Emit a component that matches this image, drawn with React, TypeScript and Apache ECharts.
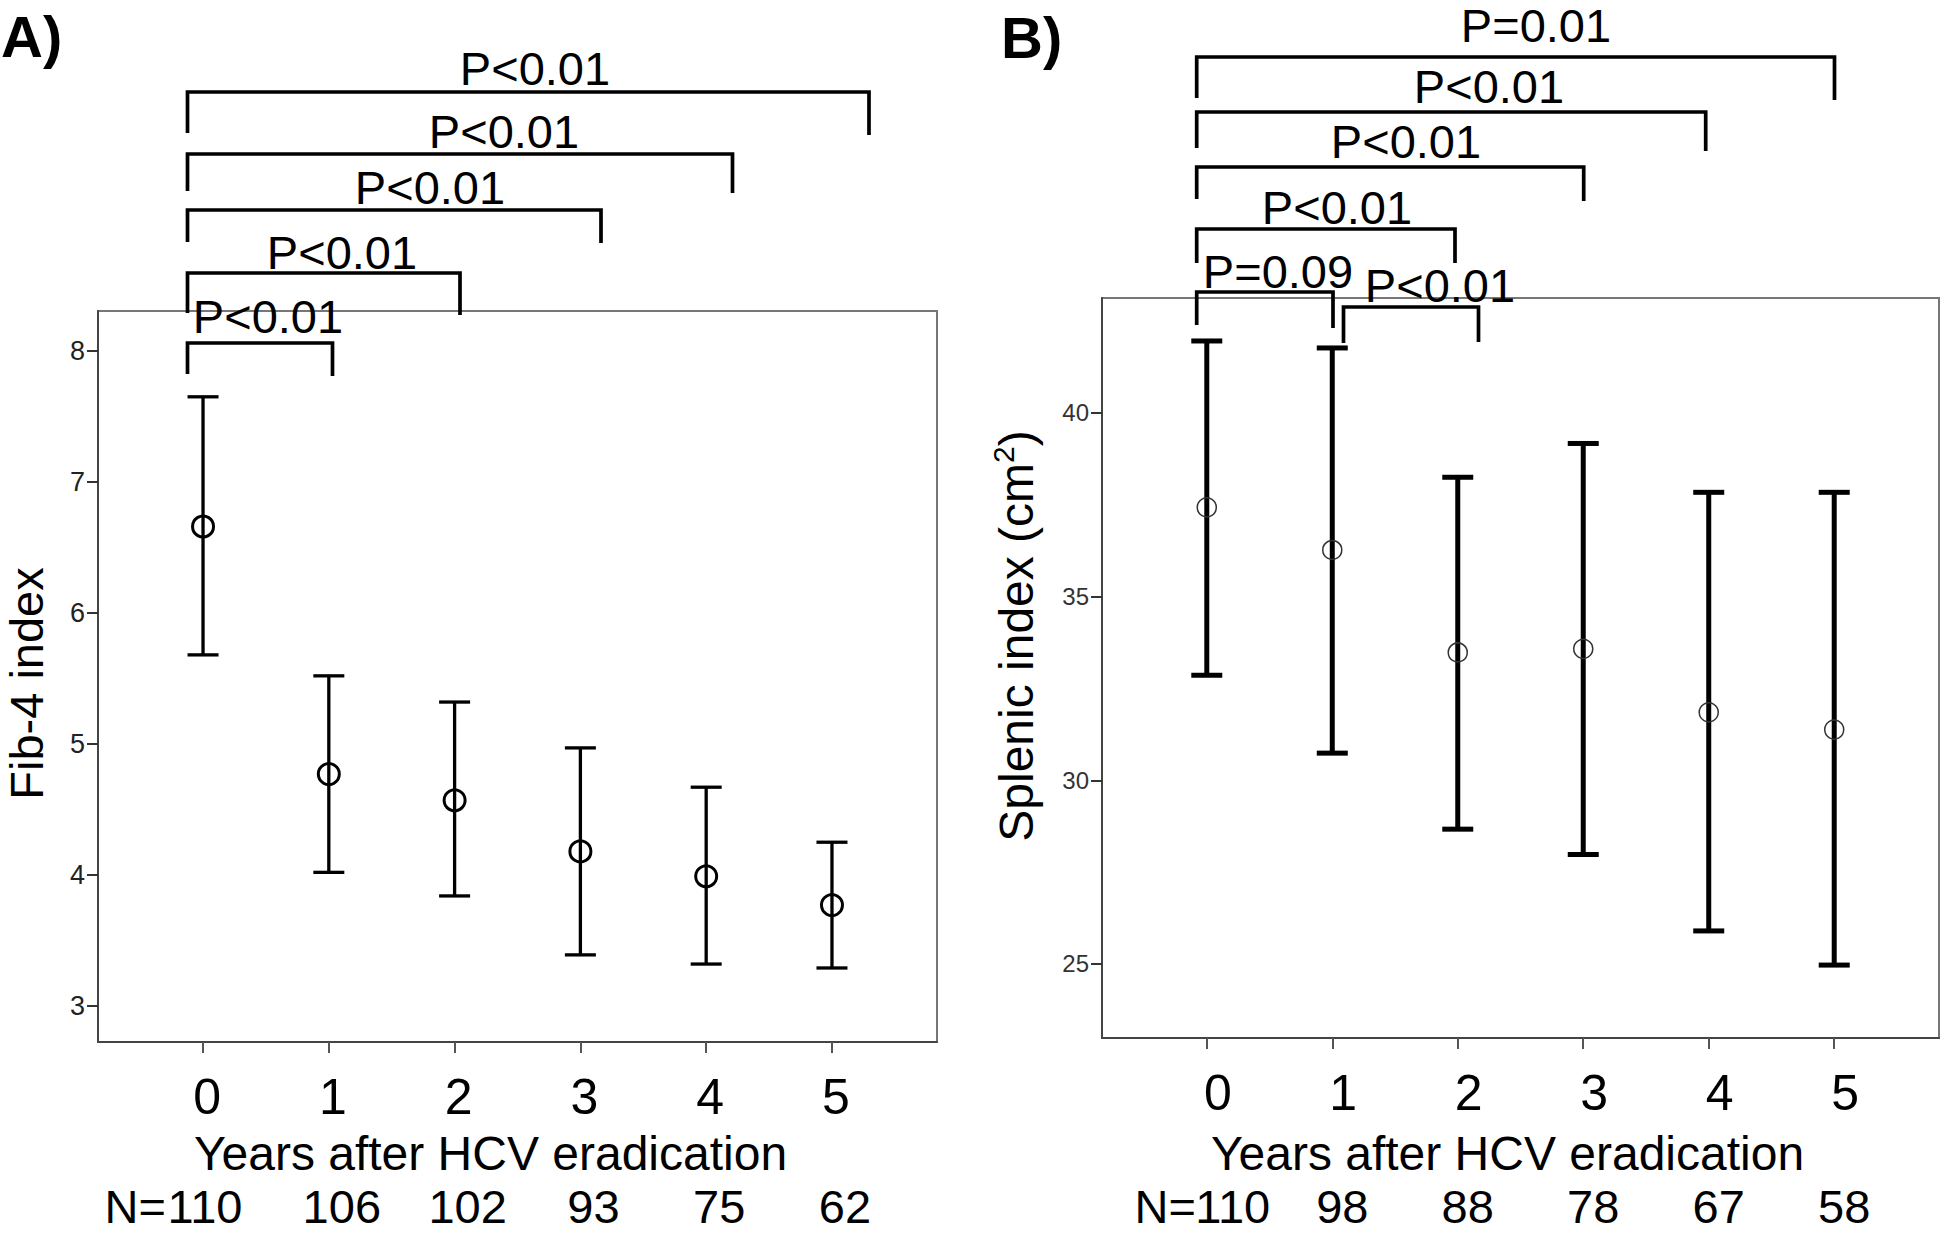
import React, { useEffect, useRef } from "react";
import * as echarts from "echarts";

// ---------------- data ----------------
const years = [0, 1, 2, 3, 4, 5];

// Panel A: Fib-4 index (mean with 95% CI)
const fibMean = [6.66, 4.77, 4.57, 4.18, 3.99, 3.77];
const fibLower = [5.68, 4.02, 3.84, 3.39, 3.32, 3.29];
const fibUpper = [7.65, 5.52, 5.32, 4.97, 4.67, 4.25];
const fibN = [110, 106, 102, 93, 75, 62];
const fibTicks = [3, 4, 5, 6, 7, 8];
const fibPLabels = ["P<0.01", "P<0.01", "P<0.01", "P<0.01", "P<0.01"];

// Panel B: Splenic index (cm2)
const splMean = [37.43, 36.27, 33.48, 33.58, 31.85, 31.38];
const splLower = [32.86, 30.74, 28.67, 27.98, 25.9, 24.97];
const splUpper = [41.96, 41.77, 38.25, 39.17, 37.84, 37.84];
const splN = [110, 98, 88, 78, 67, 58];
const splTicks = [25, 30, 35, 40];
const splPLabels = ["P=0.01", "P<0.01", "P<0.01", "P<0.01", "P=0.09", "P<0.01"];

// ---------------- layout (annotation brackets, pixels) ----------------
const fibBracketLayout = [
  { x1: 187.5, x2: 869, y: 92, l1: 133, l2: 135, tx: 535, tb: 85 },
  { x1: 187.5, x2: 732.5, y: 154, l1: 191, l2: 193, tx: 504, tb: 148 },
  { x1: 187.5, x2: 601, y: 210, l1: 242, l2: 243, tx: 430, tb: 204 },
  { x1: 187.5, x2: 460, y: 273, l1: 313, l2: 315, tx: 342, tb: 269 },
  { x1: 187.5, x2: 332.5, y: 343, l1: 374, l2: 376, tx: 268, tb: 333 },
];
const splBracketLayout = [
  { x1: 1196.7, x2: 1834.5, y: 57, l1: 98, l2: 100, tx: 1536, tb: 42 },
  { x1: 1196.7, x2: 1705.7, y: 112, l1: 148, l2: 151, tx: 1489, tb: 103 },
  { x1: 1196.7, x2: 1583.7, y: 167, l1: 199, l2: 201, tx: 1406, tb: 158 },
  { x1: 1196.7, x2: 1455, y: 229, l1: 263, l2: 263, tx: 1337, tb: 224 },
  { x1: 1196.7, x2: 1333, y: 292, l1: 325, l2: 328, tx: 1278, tb: 288 },
  { x1: 1343.5, x2: 1478.5, y: 307, l1: 343, l2: 342, tx: 1440, tb: 302 },
];

const FONT = '"Liberation Sans", Arial, Helvetica, sans-serif';

function errorBarRenderer(opts: {
  stemWidth: number;
  capWidth: number;
  capHalf: number;
  r: number;
  circleWidth: number;
  circleColor: string;
}) {
  return (params: any, api: any) => {
    const x = api.value(0);
    const lo = api.coord([x, api.value(1)]);
    const mid = api.coord([x, api.value(2)]);
    const hi = api.coord([x, api.value(3)]);
    return {
      type: "group",
      children: [
        {
          type: "line",
          shape: { x1: lo[0], y1: lo[1], x2: hi[0], y2: hi[1] },
          style: { stroke: "#000", lineWidth: opts.stemWidth },
        },
        {
          type: "line",
          shape: { x1: hi[0] - opts.capHalf, y1: hi[1], x2: hi[0] + opts.capHalf, y2: hi[1] },
          style: { stroke: "#000", lineWidth: opts.capWidth },
        },
        {
          type: "line",
          shape: { x1: lo[0] - opts.capHalf, y1: lo[1], x2: lo[0] + opts.capHalf, y2: lo[1] },
          style: { stroke: "#000", lineWidth: opts.capWidth },
        },
        {
          type: "circle",
          shape: { cx: mid[0], cy: mid[1], r: opts.r },
          style: { fill: "none", stroke: opts.circleColor, lineWidth: opts.circleWidth },
        },
      ],
    };
  };
}

function bracketGraphics(layout: any[], labels: string[]) {
  const out: any[] = [];
  layout.forEach((b, i) => {
    out.push({
      type: "polyline",
      z: 100,
      shape: {
        points: [
          [b.x1, b.l1],
          [b.x1, b.y],
          [b.x2, b.y],
          [b.x2, b.l2],
        ],
      },
      style: { stroke: "#000", lineWidth: 3.7, fill: null },
    });
    out.push({
      type: "text",
      z: 101,
      x: b.tx,
      y: b.tb - 0.36 * 47,
      style: {
        text: labels[i],
        x: 0,
        y: 0,
        fontSize: 47,
        lineHeight: 44,
        fontFamily: FONT,
        fill: "#000",
        align: "center",
        verticalAlign: "middle",
      },
    });
  });
  return out;
}

function xAxisPair(grid: number, nValues: number[], opts: any) {
  const base = {
    type: "value",
    gridIndex: grid,
    min: -0.835,
    max: 5.835,
    splitLine: { show: false },
  };
  return [
    {
      ...base,
      position: "bottom",
      axisLine: { show: true, onZero: false, lineStyle: { color: "#444", width: 2 } },
      axisTick: {
        show: true,
        length: 11,
        customValues: years,
        lineStyle: { color: "#555", width: 2 },
      },
      axisLabel: {
        customValues: years,
        fontSize: 50,
        fontFamily: FONT,
        color: "#000",
        margin: opts.labelMargin,
        padding: [0, 0, 0, opts.labelPad],
      },
      name: "Years after HCV eradication",
      nameLocation: "middle",
      nameGap: opts.nameGap,
      nameTextStyle: {
        fontSize: 48,
        fontFamily: FONT,
        color: "#000",
        padding: opts.namePadding,
      },
    },
    {
      ...base,
      position: "bottom",
      offset: 0,
      axisLine: { show: false },
      axisTick: { show: false },
      axisLabel: {
        customValues: years,
        margin: opts.nMargin,
        formatter: (v: number) => {
          const idx = years.indexOf(Math.round(v));
          const t = String(nValues[idx]);
          return idx === 0 ? "{f|" + t + "}" : "{n|" + t + "}";
        },
        rich: {
          f: {
            fontSize: 47,
            lineHeight: 40,
            fontFamily: FONT,
            color: "#000",
            padding: [0, 0, 0, opts.nPad0],
          },
          n: {
            fontSize: 47,
            lineHeight: 40,
            fontFamily: FONT,
            color: "#000",
            padding: [0, 0, 0, opts.nPad],
          },
        },
      },
    },
  ];
}

export default function App() {
  const ref = useRef<HTMLDivElement>(null);

  useEffect(() => {
    if (!ref.current) return;
    const chart = echarts.init(ref.current, undefined, { renderer: "svg" });

    const fibData = years.map((x, i) => [x, fibLower[i], fibMean[i], fibUpper[i]]);
    const splData = years.map((x, i) => [x, splLower[i], splMean[i], splUpper[i]]);

    const option: any = {
      animation: false,
      backgroundColor: "#fff",
      textStyle: { fontFamily: FONT },
      grid: [
        {
          left: 98,
          top: 311,
          width: 839,
          height: 731,
          show: true,
          borderColor: "#777",
          borderWidth: 2,
          backgroundColor: "transparent",
          outerBoundsMode: "none",
        },
        {
          left: 1102,
          top: 298,
          width: 837,
          height: 740,
          show: true,
          borderColor: "#777",
          borderWidth: 2,
          backgroundColor: "transparent",
          outerBoundsMode: "none",
        },
      ],
      xAxis: [
        ...xAxisPair(0, fibN, {
          labelMargin: 30,
          labelPad: 8,
          nameGap: 87,
          namePadding: [0, 54, 0, 0],
          nMargin: 144,
          nPad0: 4,
          nPad: 26,
        }),
        ...xAxisPair(1, splN, {
          labelMargin: 30,
          labelPad: 22,
          nameGap: 91,
          namePadding: [0, 26, 0, 0],
          nMargin: 148,
          nPad0: 52,
          nPad: 20,
        }),
      ],
      yAxis: [
        {
          type: "value",
          gridIndex: 0,
          min: 2.725,
          max: 8.305,
          splitLine: { show: false },
          axisLine: { show: true, onZero: false, lineStyle: { color: "#444", width: 2 } },
          axisTick: { show: true, length: 11, customValues: fibTicks, lineStyle: { color: "#333", width: 2 } },
          axisLabel: { customValues: fibTicks, fontSize: 27, fontFamily: FONT, color: "#222", margin: 13 },
          name: "Fib-4 index",
          nameLocation: "middle",
          nameGap: 52,
          nameTextStyle: {
            fontSize: 47,
            lineHeight: 40,
            fontFamily: FONT,
            color: "#000",
            padding: [0, 14, 0, 0],
          },
        },
        {
          type: "value",
          gridIndex: 1,
          min: 22.985,
          max: 43.13,
          splitLine: { show: false },
          axisLine: { show: true, onZero: false, lineStyle: { color: "#444", width: 2 } },
          axisTick: { show: true, length: 11, customValues: splTicks, lineStyle: { color: "#333", width: 2 } },
          axisLabel: { customValues: splTicks, fontSize: 24, fontFamily: FONT, color: "#333", margin: 13 },
          name: "Splenic index (cm{sup|2})",
          nameLocation: "middle",
          nameGap: 58,
          nameTextStyle: {
            fontSize: 48,
            fontFamily: FONT,
            color: "#000",
            padding: [0, 0, 0, 64],
            rich: {
              sup: { fontSize: 30, fontFamily: FONT, color: "#000", padding: [0, 0, 26, 0] },
            },
          },
        },
      ],
      series: [
        {
          type: "custom",
          xAxisIndex: 0,
          yAxisIndex: 0,
          data: fibData,
          encode: { x: 0, y: [1, 2, 3] },
          renderItem: errorBarRenderer({
            stemWidth: 3.3,
            capWidth: 3.3,
            capHalf: 15.5,
            r: 10.5,
            circleWidth: 3,
            circleColor: "#000",
          }),
        },
        {
          type: "custom",
          xAxisIndex: 2,
          yAxisIndex: 1,
          data: splData,
          encode: { x: 0, y: [1, 2, 3] },
          renderItem: errorBarRenderer({
            stemWidth: 5,
            capWidth: 5,
            capHalf: 15.5,
            r: 9.5,
            circleWidth: 1.5,
            circleColor: "#333",
          }),
        },
      ],
      graphic: [
        {
          type: "text",
          x: 1,
          y: 57 - 0.36 * 58,
          style: {
            text: "A)",
            fontSize: 58,
            lineHeight: 52,
            fontWeight: "bold",
            fontFamily: FONT,
            fill: "#000",
            align: "left",
            verticalAlign: "middle",
          },
        },
        {
          type: "text",
          x: 1001,
          y: 58 - 0.36 * 58,
          style: {
            text: "B)",
            fontSize: 58,
            lineHeight: 52,
            fontWeight: "bold",
            fontFamily: FONT,
            fill: "#000",
            align: "left",
            verticalAlign: "middle",
          },
        },
        {
          type: "text",
          x: 166,
          y: 1206,
          style: {
            text: "N=",
            fontSize: 47,
            lineHeight: 40,
            fontFamily: FONT,
            fill: "#000",
            align: "right",
            verticalAlign: "middle",
          },
        },
        {
          type: "text",
          x: 1196,
          y: 1206,
          style: {
            text: "N=",
            fontSize: 47,
            lineHeight: 40,
            fontFamily: FONT,
            fill: "#000",
            align: "right",
            verticalAlign: "middle",
          },
        },
        ...bracketGraphics(fibBracketLayout, fibPLabels),
        ...bracketGraphics(splBracketLayout, splPLabels),
      ],
    };

    chart.setOption(option);
    return () => chart.dispose();
  }, []);

  return (
    <div
      ref={ref}
      style={{ position: "fixed", left: 0, top: 0, width: 1946, height: 1234, background: "#fff" }}
    />
  );
}
